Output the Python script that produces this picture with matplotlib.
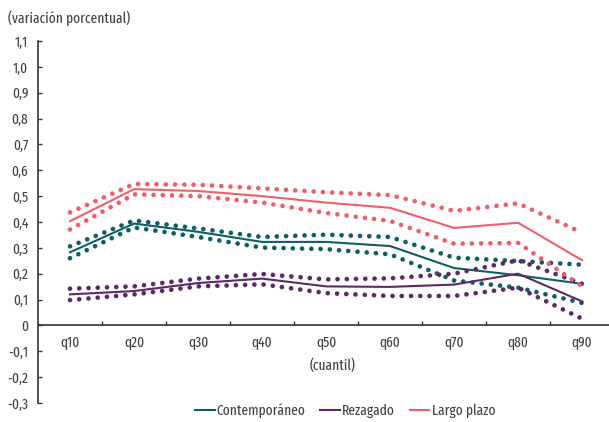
import matplotlib
matplotlib.use('Agg')
import matplotlib.pyplot as plt
import numpy as np

plt.rcParams['font.family'] = ['Fira Sans Extra Condensed', 'Roboto Condensed', 'DejaVu Sans']

cuantiles = ['q10', 'q20', 'q30', 'q40', 'q50', 'q60', 'q70', 'q80', 'q90']

cont = [0.283, 0.394, 0.362, 0.323, 0.323, 0.307, 0.222, 0.194, 0.161]
cont_sup = [0.306, 0.406, 0.375, 0.342, 0.351, 0.342, 0.262, 0.249, 0.235]
cont_inf = [0.260, 0.379, 0.342, 0.301, 0.295, 0.275, 0.174, 0.146, 0.087]

rez = [0.120, 0.133, 0.164, 0.181, 0.151, 0.149, 0.158, 0.200, 0.093]
rez_sup = [0.142, 0.151, 0.181, 0.199, 0.178, 0.182, 0.200, 0.252, 0.161]
rez_inf = [0.098, 0.120, 0.151, 0.159, 0.125, 0.114, 0.114, 0.146, 0.026]

largo = [0.403, 0.527, 0.520, 0.500, 0.475, 0.455, 0.377, 0.397, 0.252]
largo_sup = [0.437, 0.547, 0.544, 0.530, 0.515, 0.504, 0.443, 0.472, 0.359]
largo_inf = [0.371, 0.507, 0.500, 0.475, 0.435, 0.404, 0.316, 0.319, 0.151]

yticks = [-0.3, -0.2, -0.1, 0, 0.1, 0.2, 0.3, 0.4, 0.5, 0.6, 0.7, 0.8, 0.9, 1.0, 1.1]
ytick_labels = ['-0,3', '-0,2', '-0,1', '0', '0,1', '0,2', '0,3', '0,4', '0,5',
                '0,6', '0,7', '0,8', '0,9', '1,0', '1,1']

c_teal = '#105f63'
c_purp = '#5c2a66'
c_pink = '#ee6069'
txt = '#404040'
fs = 10.5

fig = plt.figure(figsize=(6.09, 4.22), dpi=100)
ax = fig.add_axes([38/609, 19/422, 1 - 38/609, 362/422])

x = np.arange(len(cuantiles))
series = [(cont, cont_sup, cont_inf, c_teal, 'Contemporáneo'),
          (rez, rez_sup, rez_inf, c_purp, 'Rezagado'),
          (largo, largo_sup, largo_inf, c_pink, 'Largo plazo')]
for mid, sup, inf, col, lab in series:
    ax.plot(x, mid, color=col, lw=1.5, label=lab)
    for b in (sup, inf):
        ax.plot(x, b, color=col, lw=3.4, linestyle=(0, (0.01, 1.95)),
                dash_capstyle='round')

ax.set_xlim(-0.5, 8.42)
ax.set_ylim(-0.3, 1.1)
ax.set_yticks(yticks)
ax.set_yticklabels(ytick_labels)
ax.set_xticks(x)
ax.set_xticklabels(cuantiles)
ax.set_xticks(np.arange(0.5, 8, 1), minor=True)
ax.tick_params(axis='x', which='major', length=0, pad=7, labelsize=fs, colors=txt)
ax.tick_params(axis='x', which='minor', length=3, direction='in', width=1, color='#333333')
ax.tick_params(axis='y', length=3, direction='in', width=1, pad=7, labelsize=fs,
               colors=txt, color='#333333')

ax.spines['bottom'].set_position(('data', 0))
ax.spines['top'].set_visible(False)
ax.spines['right'].set_visible(False)
ax.spines['left'].set_color('#333333')
ax.spines['bottom'].set_color('#333333')
ax.spines['left'].set_linewidth(1.2)
ax.spines['bottom'].set_linewidth(1.2)

fig.text(8/609, 1 - 18/422, '(variación porcentual)', fontsize=fs, color=txt,
         va='center', ha='left')
fig.text(333/609, 1 - 366/422, '(cuantil)', fontsize=fs, color=txt,
         va='center', ha='center')

fig.legend(loc='center', bbox_to_anchor=(345/609, 11/422), ncol=3, frameon=False,
           handlelength=1.35, handletextpad=0.15, columnspacing=1.0, fontsize=fs,
           labelcolor=txt, borderpad=0)

fig.savefig('out.png', dpi=100)
